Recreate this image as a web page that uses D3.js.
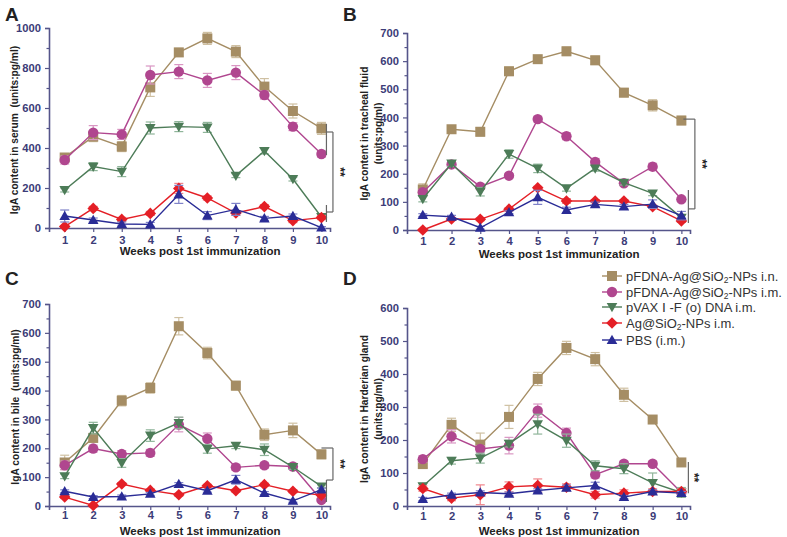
<!DOCTYPE html>
<html><head><meta charset="utf-8">
<script src="https://cdn.jsdelivr.net/npm/d3@7"></script>
<style>body{margin:0;background:#fff}svg{display:block}</style>
</head><body>
<svg id="c" width="787" height="537"></svg>
<script>
// ---------- DATA ----------
const weeks = [1,2,3,4,5,6,7,8,9,10];
const seriesNames = ["pFDNA-Ag@SiO2-NPs i.n.","pFDNA-Ag@SiO2-NPs i.m.","pVAX Ⅰ -F (o) DNA i.m.","Ag@SiO2-NPs i.m.","PBS (i.m.)"];
const panelLetters = ["A","B","C","D"];
const yLabels = [["IgA content in serum\u00a0\u00a0(units:pg/ml)"],["IgA content in tracheal fluid","(units:pg/ml)"],["IgA content in bile\u00a0\u00a0(units:pg/ml)"],["IgA content in Harderian gland","(units:pg/ml)"]];
const xLabel = "Weeks post 1st immunization";
const yMaxes = [1000,700,700,600];
const yTickSteps = [200,100,100,100];

// Panel A: serum
const serumIN   = [353,457,407,703,878,948,882,707,585,498];
const serumIM   = [340,477,468,765,782,738,777,665,507,370];
const serumPVAX = [190,307,282,500,507,503,262,385,245,55];
const serumAg   = [7,98,43,73,198,150,75,107,37,52];
const serumPBS  = [60,40,20,18,168,62,93,48,60,2];
const serumINErr   = [15,25,25,45,20,30,30,40,35,30];
const serumIMErr   = [20,35,25,45,35,35,35,20,20,15];
const serumPVAXErr = [10,20,25,30,25,25,10,15,10,10];
const serumAgErr   = [5,10,10,10,25,10,10,10,10,10];
const serumPBSErr  = [30,10,10,10,45,20,30,10,10,5];

// Panel B: tracheal fluid
const trachIN   = [144,358,349,564,607,635,603,488,443,389];
const trachIM   = [134,233,154,193,394,333,242,166,225,109];
const trachPVAX = [110,236,136,270,219,148,219,168,130,44];
const trachAg   = [0,39,38,74,150,103,103,103,83,32];
const trachPBS  = [53,47,8,63,116,71,91,83,92,51];
const trachINErr   = [20,12,15,15,10,15,15,15,20,15];
const trachIMErr   = [10,10,10,8,10,12,12,8,12,8];
const trachPVAXErr = [10,10,15,15,15,10,10,8,8,10];
const trachAgErr   = [3,5,5,5,5,8,5,5,5,5];
const trachPBSErr  = [5,5,5,5,25,10,8,8,15,15];

// Panel C: bile
const bileIN   = [151,236,365,409,623,530,417,247,262,179];
const bileIM   = [141,199,180,184,282,233,134,141,137,21];
const bilePVAX = [103,270,149,244,288,198,209,195,135,68];
const bileAg   = [31,2,76,54,39,70,53,74,51,37];
const bilePBS  = [51,31,33,42,76,53,91,45,18,57];
const bileINErr   = [25,15,18,18,30,20,15,20,25,15];
const bileIMErr   = [15,12,12,12,25,20,10,10,10,5];
const bilePVAXErr = [8,20,15,20,20,15,10,20,8,5];
const bileAgErr   = [5,5,5,5,5,5,5,5,5,5];
const bilePBSErr  = [5,5,5,5,5,5,15,5,5,5];

// Panel D: Harderian gland
const hardIN   = [127,246,186,270,385,479,445,337,262,132];
const hardIM   = [142,211,173,183,289,221,95,128,128,41];
const hardPVAX = [60,137,145,189,248,198,122,113,70,41];
const hardAg   = [53,24,34,58,62,57,34,39,44,44];
const hardPBS  = [21,34,41,37,47,55,62,27,44,39];
const hardINErr   = [10,20,35,35,20,20,20,20,10,8];
const hardIMErr   = [10,20,10,25,20,15,10,8,8,5];
const hardPVAXErr = [8,10,15,10,30,20,15,15,30,15];
const hardAgErr   = [8,8,30,15,20,10,10,10,8,8];
const hardPBSErr  = [5,5,5,5,5,8,10,5,5,5];

// significance brackets (data units): [topLow, topHigh, topJoin, botJoin, botLow, botHigh]
const bracketA = [365,520,480,80,30,115];
const bracketB = [394,394,394,75,25,142];
const bracketC = [201,201,201,90,14,90];
const bracketD = [39,133];

// ---------- STYLE / LAYOUT ----------
const colors = ["#a58d64","#b0468f","#4d7c58","#e41f26","#2a2c96"];
const errColors = ["#cfc0a2","#d996c3","#8fb59a","#f0848a","#7f82c8"];
const symbols = ["square","circle","down","diamond","up"];
const layouts = [
  {x0:49,x1:330,y0:228,y1:28, lx:14, tx:5,  ty:21, tk:16, xl:27},
  {x0:407,x1:690,y0:230,y1:33, lx:364, tx:343, ty:21, tk:15, xl:27.5},
  {x0:49,x1:330,y0:506,y1:304, lx:15, tx:5, ty:285, tk:13, xl:28.5},
  {x0:407,x1:690,y0:506,y1:308, lx:364, tx:343, ty:285, tk:14, xl:28.5}
];
const panelData = [
  [[serumIN,serumINErr],[serumIM,serumIMErr],[serumPVAX,serumPVAXErr],[serumAg,serumAgErr],[serumPBS,serumPBSErr]],
  [[trachIN,trachINErr],[trachIM,trachIMErr],[trachPVAX,trachPVAXErr],[trachAg,trachAgErr],[trachPBS,trachPBSErr]],
  [[bileIN,bileINErr],[bileIM,bileIMErr],[bilePVAX,bilePVAXErr],[bileAg,bileAgErr],[bilePBS,bilePBSErr]],
  [[hardIN,hardINErr],[hardIM,hardIMErr],[hardPVAX,hardPVAXErr],[hardAg,hardAgErr],[hardPBS,hardPBSErr]]
];
const brackets = [bracketA,bracketB,bracketC,bracketD];
const axisColor = "#55558a";
const tickColor = "#3c3c78";
const font = "'Liberation Sans', Arial, sans-serif";

const svg = d3.select("#c");

function drawMarker(g, sym, cx, cy, color) {
  let d;
  if (sym === "square") { const s = 5; d = `M${cx-s},${cy-s}h${2*s}v${2*s}h${-2*s}Z`; }
  else if (sym === "circle") { g.append("circle").attr("cx",cx).attr("cy",cy).attr("r",5.2).attr("fill",color); return; }
  else if (sym === "down") { const s = 5.3; d = `M${cx-s},${cy-s*0.75}L${cx+s},${cy-s*0.75}L${cx},${cy+s}Z`; }
  else if (sym === "up") { const s = 5.3; d = `M${cx-s},${cy+s*0.75}L${cx+s},${cy+s*0.75}L${cx},${cy-s}Z`; }
  else { const s = 5.8; d = `M${cx},${cy-s}L${cx+s},${cy}L${cx},${cy+s}L${cx-s},${cy}Z`; }
  g.append("path").attr("d", d).attr("fill", color);
}

layouts.forEach((L, pi) => {
  const g = svg.append("g");
  const x = d3.scaleLinear().domain([0.45, 10.3]).range([L.x0, L.x1]);
  const y = d3.scaleLinear().domain([0, yMaxes[pi]]).range([L.y0, L.y1]);

  // axes
  const xAxis = d3.axisBottom(x).tickValues(weeks).tickSize(4).tickFormat(d3.format("d"));
  const xg = g.append("g").attr("transform", `translate(0,${L.y0})`).call(xAxis);
  const yTicks = d3.range(0, yMaxes[pi] + 1, yTickSteps[pi]);
  const yMinor = d3.range(yTickSteps[pi]/2, yMaxes[pi], yTickSteps[pi]);
  const ygm = g.append("g").attr("transform", `translate(${L.x0},0)`).call(d3.axisLeft(y).tickValues(yMinor).tickSize(2.5).tickFormat(""));
  const yg = g.append("g").attr("transform", `translate(${L.x0},0)`).call(d3.axisLeft(y).tickValues(yTicks).tickSize(4).tickFormat(d3.format("d")));
  [xg, yg, ygm].forEach(a => {
    a.select(".domain").attr("stroke", axisColor).attr("stroke-width", 1.6);
    a.selectAll(".tick line").attr("stroke", axisColor).attr("stroke-width", 1.2);
    a.selectAll("text").attr("fill", tickColor).attr("font-family", font).attr("font-weight", "bold").attr("font-size", 11.2);
  });
  ygm.select(".domain").remove();
  xg.selectAll("text").attr("y", L.tk).attr("dy", 0);
  yg.selectAll("text").attr("dx", "-1");

  // x label
  g.append("text").attr("x", (x(1)+x(10))/2 + 7).attr("y", L.y0 + L.xl)
    .attr("text-anchor","middle").attr("font-family",font).attr("font-weight","bold").attr("font-size",11.5).attr("fill","#222").text(xLabel);
  // y label
  const lines = yLabels[pi];
  const cy = (L.y0 + L.y1)/2 + 2;
  lines.forEach((t, li) => {
    const lx = L.lx + li*14;
    g.append("text").attr("transform", `translate(${lx},${cy}) rotate(-90)`).attr("text-anchor","middle").attr("dy","0.35em")
      .attr("font-family",font).attr("font-weight","bold").attr("font-size",10.2).attr("fill","#222").text(t);
  });
  // panel letter
  g.append("text").attr("x", L.tx).attr("y", L.ty).attr("font-family",font).attr("font-weight","bold").attr("font-size",19).attr("fill","#222").text(panelLetters[pi]);

  // series
  const line = d3.line().x((d,i)=>x(weeks[i])).y(d=>y(d));
  panelData[pi].forEach(([vals, errs], si) => {
    const sg = g.append("g");
    vals.forEach((v, i) => {
      const cx = x(weeks[i]);
      const e = errs[i];
      sg.append("line").attr("x1",cx).attr("x2",cx).attr("y1",y(v-e)).attr("y2",y(v+e)).attr("stroke",errColors[si]).attr("stroke-width",1.2);
      [v-e, v+e].forEach(ev => sg.append("line").attr("x1",cx-4.5).attr("x2",cx+4.5).attr("y1",y(ev)).attr("y2",y(ev)).attr("stroke",errColors[si]).attr("stroke-width",1.2));
    });
    sg.append("path").attr("d", line(vals)).attr("fill","none").attr("stroke",colors[si]).attr("stroke-width",1.4);
    vals.forEach((v, i) => drawMarker(sg, symbols[si], x(weeks[i]), y(v), colors[si]));
  });

  // significance bracket
  const b = brackets[pi];
  const bc = "#666";
  const bx = x(10) + (pi % 2 === 0 ? 5 : 7);
  if (b.length === 6) {
    const [tl, th, tj, bj, bl, bh] = b;
    const bx2 = bx + 6.5;
    if (th > tl) g.append("line").attr("x1",bx).attr("x2",bx).attr("y1",y(th)).attr("y2",y(tl)).attr("stroke",bc).attr("stroke-width",1.2);
    g.append("line").attr("x1",bx - (th>tl?0:5)).attr("x2",bx2).attr("y1",y(tj)).attr("y2",y(tj)).attr("stroke",bc).attr("stroke-width",1.2);
    g.append("line").attr("x1",bx2).attr("x2",bx2).attr("y1",y(tj)).attr("y2",y(bj)).attr("stroke",bc).attr("stroke-width",1.2);
    g.append("line").attr("x1",bx).attr("x2",bx2).attr("y1",y(bj)).attr("y2",y(bj)).attr("stroke",bc).attr("stroke-width",1.2);
    g.append("line").attr("x1",bx).attr("x2",bx).attr("y1",y(bh)).attr("y2",y(bl)).attr("stroke",bc).attr("stroke-width",1.2);
    const sy = (y(tj)+y(bj))/2;
    g.append("text").attr("transform",`translate(${bx2+3},${sy}) rotate(90)`).attr("text-anchor","middle")
      .attr("font-family",font).attr("font-weight","bold").attr("font-size",12).attr("fill","#222").text("**");
  } else {
    const [bl, bh] = b;
    g.append("line").attr("x1",bx).attr("x2",bx).attr("y1",y(bh)).attr("y2",y(bl)).attr("stroke",bc).attr("stroke-width",1.2);
    g.append("text").attr("transform",`translate(${bx+2},${(y(bh)+y(bl))/2}) rotate(90)`).attr("text-anchor","middle")
      .attr("font-family",font).attr("font-weight","bold").attr("font-size",12).attr("fill","#222").text("**");
  }
});

// legend
const legendY = [276, 292, 307, 323, 340];
const lg = svg.append("g");
seriesNames.forEach((name, i) => {
  const yy = legendY[i];
  lg.append("line").attr("x1",602).attr("x2",622).attr("y1",yy).attr("y2",yy).attr("stroke",colors[i]).attr("stroke-width",1.4);
  drawMarker(lg, symbols[i], 612, yy, colors[i]);
  const t = lg.append("text").attr("x",626).attr("y",yy+4.5).attr("font-family",font).attr("font-size",13).attr("fill","#333");
  const parts = name.split("SiO2");
  if (parts.length === 2) {
    t.append("tspan").text(parts[0] + "SiO");
    t.append("tspan").attr("font-size",8.5).attr("dy",2.5).text("2");
    t.append("tspan").attr("dy",-2.5).text(parts[1]);
  } else t.text(name);
});
</script>
</body></html>
